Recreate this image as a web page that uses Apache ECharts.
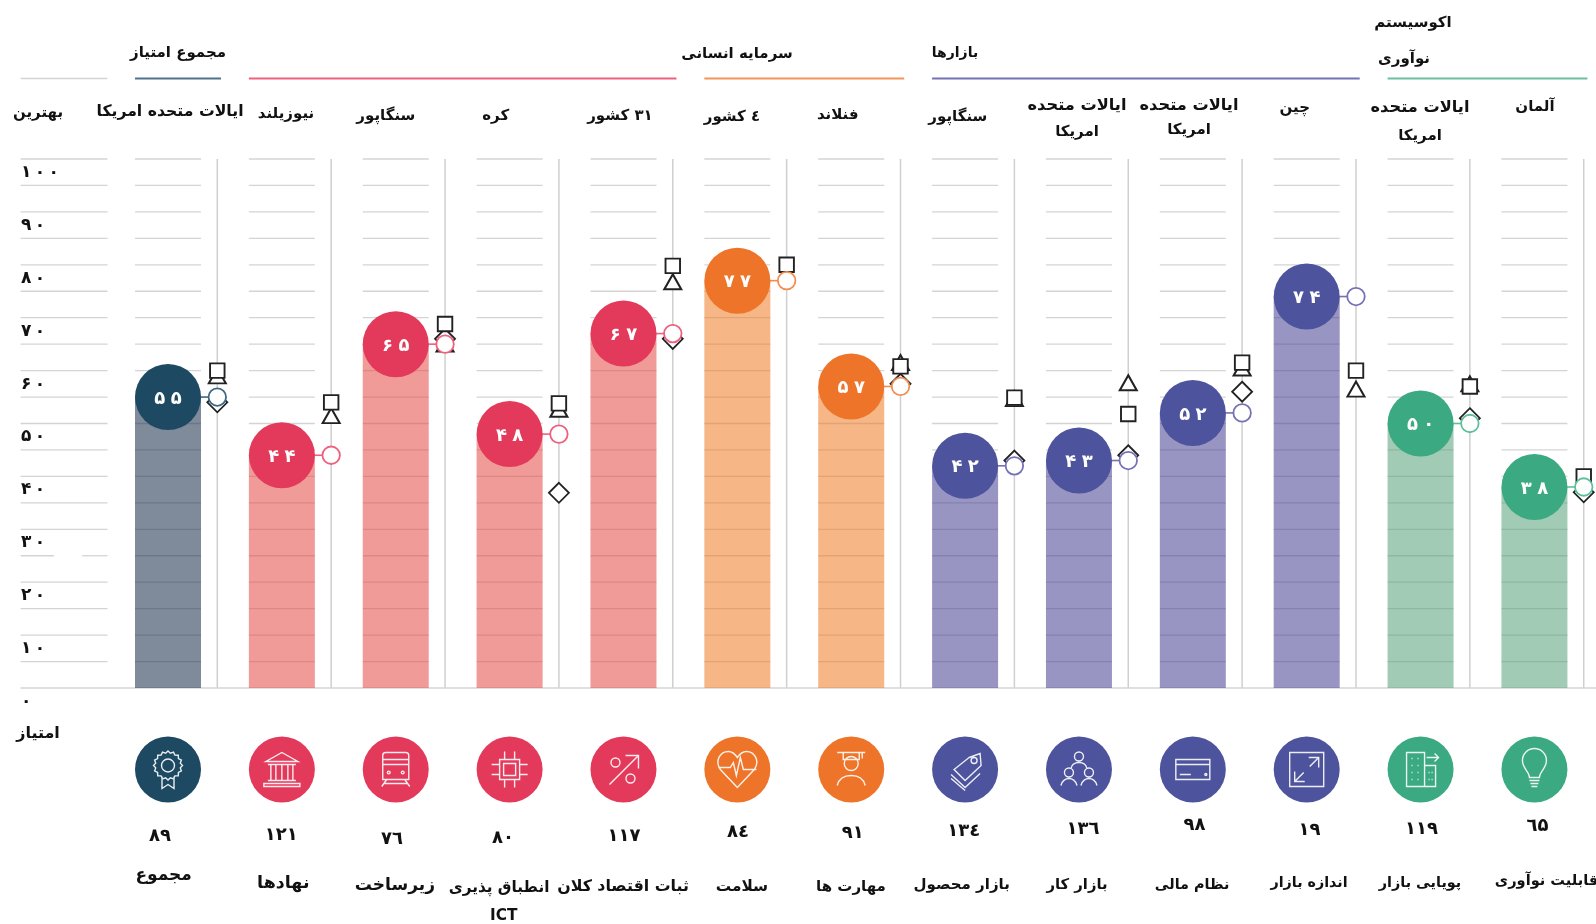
<!DOCTYPE html>
<html lang="fa"><head><meta charset="utf-8">
<script src="https://cdn.jsdelivr.net/npm/echarts@6/dist/echarts.min.js"></script>
<style>html,body{margin:0;padding:0;background:#fff}#c{width:1596px;height:924px}</style></head>
<body><div id="c"></div>
<script>
// ---- values ----
const pillars = ['مجموع','نهادها','زیرساخت','انطباق پذیری\nICT','ثبات اقتصاد کلان','سلامت','مهارت ها','بازار محصول','بازار کار','نظام مالی','اندازه بازار','پویایی بازار','قابلیت نوآوری'];
const ranks = ['۸۹','۱۲۱','۷٦','۸۰','۱۱۷','۸٤','۹۱','۱۳٤','۱۳٦','۹۸','۱۹','۱۱۹','٦۵'];
const bestCountry = ['ایالات متحده امریکا','نیوزیلند','سنگاپور','کره','۳۱ کشور','٤ کشور','فنلاند','سنگاپور','ایالات متحده\nامریکا','ایالات متحده\nامریکا','چین','ایالات متحده\nامریکا','آلمان'];
const scores = [55,44,65,48,67,77,57,42,43,52,74,50,38];
const squareValues   = [60,54,68.8,53.8,79.8,80,60.8,54.9,51.8,61.5,60,57,40];
const triangleValues = [59,51.5,65,52.7,76.8,null,61.5,54.7,57.7,60.5,56.5,57.5,null];
const diamondValues  = [54,null,66,36.9,66,null,57.5,43,44,56,null,51,37];
const groupNames = ['مجموع امتیاز','سرمایه انسانی','بازارها','اکوسیستم\nنوآوری'];
const axisTicks = [0,10,20,30,40,50,60,70,80,90,100];
const gridLevels = [5,10,15,20,25,30,35,40,45,50,55,60,65,70,75,80,85,90,95,100];

// ---- styling / layout (not data) ----
const groupOf = [0,1,1,1,1,2,2,3,3,3,3,4,4];
const groupSpan = [[0,0,'#4f7389'],[1,4,'#ee607e'],[5,6,'#f4935a'],[7,10,'#7471b4'],[11,12,'#6cbf9e']];
const solid = ['#1d4a62','#e33a5b','#ed7428','#4d539c','#3ba981'];
const ringCol = ['#3f6780','#ee607e','#f28d4f','#7471b4','#5ebf9a'];
const barFill = ['rgba(22,44,73,.55)','rgba(227,73,68,.55)','rgba(239,122,33,.55)','rgba(70,62,146,.55)','rgba(86,160,122,.55)'];
const colColor = groupOf.map(g=>solid[g]);
const ringColor = groupOf.map(g=>ringCol[g]);
const FONT = '"DejaVu Sans",sans-serif';
const BW = 66, VX = 49.3;
const countryX = [170,286,385.8,495.7,620,732,837.7,957.8,1077,1189,1294.8,1420,1535];
const countryY = [[112],[114],[116],[116],[116],[117],[115],[117],[106,132],[106,130],[108],[108,136],[107]];
const rankX = [160,281.3,392,503,624,738,852.8,963.7,1082.9,1194.4,1309.6,1421.4,1537.6];
const rankY = [836,835,839,838,836,832,833,831,829,825,830,829,826];
const pillarX = [163.6,283.3,394.9,499,623,742,851,961.7,1077,1192,1309,1420,1546.5];
const pillarY = [876,883,886,888,887,887,887,885,885,885,883,883,881];
const pillarSize = [17,17.5,17,15.3,15.8,15.3,15,15,14.8,14.4,14.3,14.4,14.6];
const rtl = s => '\u200F'+s;
const fa = n => String(n).replace(/\d/g,d=>'۰۱۲۳۴۵۶۷۸۹'[d]);
const spaced = s => s.split('').join('\u2009');
const C = (x,y,r)=>`M${x-r} ${y}a${r} ${r} 0 1 0 ${2*r} 0a${r} ${r} 0 1 0 ${-2*r} 0`;
const B = 'M0 0M44 44';
const rosette = (()=>{let p='';for(let k=0;k<32;k++){const a=k*Math.PI/16,r=k%2?12.5:14.5;p+=(k?'L':'M')+(22+r*Math.sin(a)).toFixed(1)+' '+(18-r*Math.cos(a)).toFixed(1);}return p+'Z';})();
const icons = [
 B+rosette+C(22,18,6.5)+'M16 29V41L22 37L28 41V29',
 B+'M22 5L38 14H6ZM8 17H36M11 17V33M16 17V33M22 17V33M28 17V33M33 17V33M8 33H36M4 39H40V36H4Z',
 B+'M12 5H32a3 3 0 0 1 3 3V32H9V8a3 3 0 0 1 3-3ZM9 12H35M9 17H35'+C(15,25,1.4)+C(29,25,1.4)+'M13 32L8 39M31 32L36 39M10 36H34',
 B+'M12 12H32V32H12ZM16 16H28V28H16ZM17 4V12M27 4V12M17 32V40M27 32V40M4 17H12M4 27H12M32 17H40M32 27H40',
 B+'M8 37L36 9M24 8H37V21'+C(14,15,4.5)+C(29,31,4.5),
 B+'M22 40L5 22C-1 13 5 4 13 4C17 4 20 7 22 10C24 7 27 4 31 4C39 4 45 13 39 22ZM3 20H15L18 15L21 28L25 10L28 22H41',
 B+'M8 5H36M14 5V12H30V5M33 5V11'+C(22,16,7)+'M8 38C10 30 17 28 22 28C27 28 34 30 36 38',
 B+'M26 10L37 6L38 18L22 33L11 22Z'+C(31,13,3)+'M8 27L22 40L37 26M8 31L22 43',
 B+C(22,9,4.5)+'M14 21C15 16 19 15 22 15C25 15 29 16 30 21'+C(12,25,4.5)+'M4 38C5 33 9 31 12 31C15 31 19 33 20 38'+C(32,25,4.5)+'M24 38C25 33 29 31 32 31C35 31 39 33 40 38',
 B+'M5 12H39V32H5ZM5 17H39M9 27H20'+C(35,27,1),
 B+'M5 5H39V39H5ZM10 34L19 25M25 19L34 10M24 10H34V20M10 24V34H20',
 B+'M8 5H26V39H8ZM26 18H37V39H26ZM28 10H40M36 6L40 10L36 14M13 11h1M19 11h1M13 18h1M19 18h1M13 25h1M19 25h1M13 32h1M19 32h1M30 25h1M33 25h1M30 32h1M33 32h1',
 B+'M17 30C17 24 10 21 10 13A12 12 0 0 1 34 13C34 21 27 24 27 30ZM17 33H27M18 36H26M19 39H25'
];
const LINE = '#d4d4d4';
const seg = (x1,y1,x2,y2,stroke,lw)=>({type:'line',shape:{x1,y1,x2,y2},style:{stroke,lineWidth:lw,fill:null}});
const txt = (x,y,text,font,fill)=>({type:'text',style:{x,y,text,font,fill:fill||'#111',align:'center',verticalAlign:'middle'}});
const bold = s=>`bold ${s}px ${FONT}`;
const idx = scores.map((_,i)=>[i,0]);
const custom = (z,data,renderItem)=>({type:'custom',z,data,clip:false,silent:true,renderItem,animation:false});

const chart = echarts.init(document.getElementById('c'),null,{renderer:'canvas'});
const markerSeries=(vals,symbol,size,z,border,lw)=>({type:'scatter',z,symbol,symbolSize:size,symbolOffset:[VX,0],silent:true,animation:false,
  data:vals.map((v,i)=>({value:v===null?'-':v,itemStyle:{color:'#fff',opacity:1,borderColor:border?border:ringColor[i],borderWidth:lw}}))});

chart.setOption({
  animation:false,
  grid:{left:111.07,width:1480.3,top:159,height:529,containLabel:false},
  xAxis:{type:'category',data:pillars,axisLine:{show:false},axisTick:{show:false},axisLabel:{show:false},splitLine:{show:false}},
  yAxis:{type:'value',min:0,max:100,interval:10,splitLine:{show:false},axisLine:{show:false},axisTick:{show:false},
    axisLabel:{align:'left',margin:90,verticalAlign:'top',lineHeight:27,color:'#111',fontFamily:FONT,fontWeight:'bold',fontSize:17,
      formatter:v=>spaced(fa(v))},
    customValues:axisTicks},
  series:[
    custom(1,idx,(p,api)=>{
      const i=p.dataIndex, cx=api.coord([i,0])[0], ch=[];
      gridLevels.forEach(l=>{const y=api.coord([i,l])[1];ch.push(seg(cx-BW/2,y,cx+BW/2,y,LINE,1.3));});
      ch.push(seg(cx+VX,api.coord([i,100])[1],cx+VX,api.coord([i,0])[1],'#cfcfcf',1.5));
      return {type:'group',children:ch};
    }),
    custom(1,[[0,0]],(p,api)=>{
      const ch=[];
      gridLevels.forEach(l=>{const y=api.coord([0,l])[1];
        if(l===25){ch.push(seg(20.6,y,54,y,LINE,1.3),seg(82,y,107.5,y,LINE,1.3));}
        else ch.push(seg(20.6,y,107.5,y,LINE,1.3));});
      const y0=api.coord([0,0])[1];
      ch.push(seg(20.6,y0,1596,y0,LINE,1.6));
      ch.push(seg(20.6,78.5,107.5,78.5,LINE,1.6));
      groupSpan.forEach(g=>{
        const a=api.coord([g[0],0])[0]-BW/2,b=api.coord([g[1],0])[0]+53;
        ch.push(seg(a,78.5,b,78.5,g[2],1.8));
      });
      ch.push(txt(178,53,rtl(groupNames[0]),bold(15)));
      ch.push(txt(737,54,rtl(groupNames[1]),bold(15)));
      ch.push(txt(955,53,rtl(groupNames[2]),bold(14)));
      const eco=groupNames[3].split('\n');
      ch.push(txt(1413,23,rtl(eco[0]),bold(15)));
      ch.push(txt(1404,59,rtl(eco[1]),bold(15)));
      ch.push(txt(38,113,rtl('بهترین'),bold(15)));
      ch.push(txt(38,734,rtl('امتیاز'),bold(16)));
      return {type:'group',children:ch};
    }),
    {type:'bar',z:2,barWidth:BW,silent:true,animation:false,data:scores.map((v,i)=>({value:v,itemStyle:{color:barFill[groupOf[i]]}}))},
    custom(3,idx,(p,api)=>{
      const i=p.dataIndex,c=api.coord([i,scores[i]]);
      return seg(c[0]+BW/2-1,c[1],c[0]+VX-8,c[1],ringColor[i],1.6);
    }),
    markerSeries(diamondValues,'diamond',[20,20],4,'#222',1.8),
    markerSeries(triangleValues,'triangle',[17,15],5,'#222',2),
    markerSeries(squareValues,'rect',[14.5,14.5],6,'#222',1.9),
    markerSeries(scores,'circle',17.5,7,null,1.8),
    {type:'scatter',z:8,symbol:'circle',symbolSize:BW,silent:true,animation:false,
      data:scores.map((v,i)=>({value:v,itemStyle:{color:colColor[i],opacity:1}})),
      label:{show:true,position:'inside',offset:[0,2],color:'#fff',fontFamily:FONT,fontWeight:'bold',fontSize:18,formatter:p=>fa(p.value).split('').join('\u2009\u200a')}},
    custom(9,idx,(p,api)=>{
      const i=p.dataIndex,cx=api.coord([i,0])[0],ch=[];
      const cy=769.5;
      ch.push({type:'circle',shape:{cx,cy,r:33},style:{fill:colColor[i]}});
      ch.push({type:'path',shape:{pathData:icons[i],x:cx-22,y:cy-22,width:44,height:44,layout:'center'},
        style:{fill:'none',stroke:'rgba(255,255,255,.9)',lineWidth:1.4}});
      bestCountry[i].split('\n').forEach((t,k)=>{
        const size = t.indexOf('ایالات')===0 ? (t.indexOf('امریکا')>0?15.7:16.2) : 15;
        ch.push(txt(countryX[i],countryY[i][k],rtl(t),bold(size)));
      });
      ch.push(txt(rankX[i],rankY[i],ranks[i],bold(18)));
      pillars[i].split('\n').forEach((t,k)=>ch.push(txt(k?503.7:pillarX[i],pillarY[i]+k*28,rtl(t),bold(pillarSize[i]))));
      return {type:'group',children:ch};
    })
  ]
});
</script></body></html>
